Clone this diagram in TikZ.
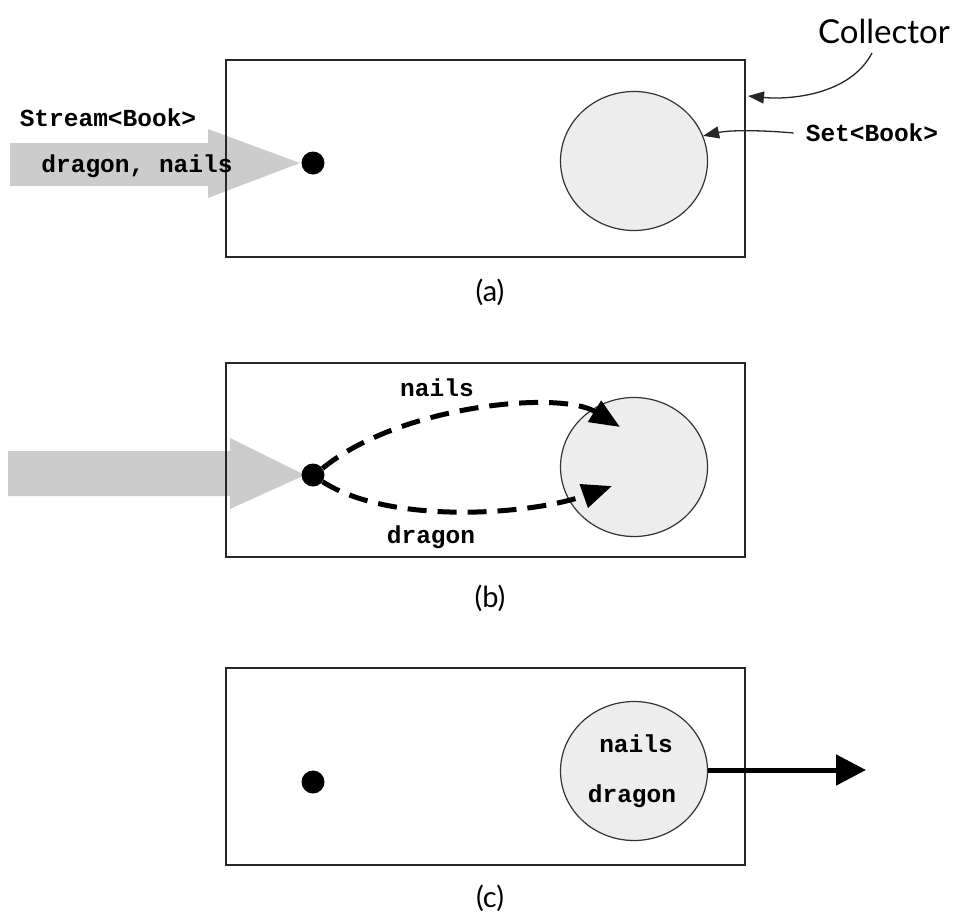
\documentclass[tikz,border=0pt]{standalone}
\usepackage{fontspec}
\setmainfont{Lato}
\setmonofont{Liberation Mono}
\usetikzlibrary{arrows.meta,shapes.geometric}

\tikzset{
  frame/.style={draw=black!85, line width=1.4pt},
  setbag/.style={draw=black!80, line width=1.2pt, fill=black!7, ellipse,
                 minimum width=147pt, minimum height=139pt, inner sep=0pt},
  dotnode/.style={circle, fill=black, minimum size=23pt, inner sep=0pt},
  streamarrow/.style={fill=black!20, draw=none},
  code/.style={font=\fontsize{24.5}{28}\selectfont\ttfamily\bfseries, inner sep=0pt},
  caption/.style={font=\fontsize{29}{33}\selectfont, inner sep=0pt},
  thinarrow/.style={draw=black!85, line width=1.3pt, -{Triangle[length=16pt,width=12pt]}},
  flow/.style={line width=5pt, dash pattern=on 19pt off 11pt,
               -{Triangle[length=30pt,width=24pt]}},
  outflow/.style={line width=5pt, -{Triangle[length=30pt,width=30pt]}}
}

\begin{document}
\begin{tikzpicture}[x=1pt,y=-1pt]
\useasboundingbox (0,0) rectangle (959,916);

% ---------- (a) ----------
\fill[streamarrow] (10,143) -- (208,143) -- (208,129) -- (300,163)
  -- (208,198) -- (208,186) -- (10,186) -- cycle;
\draw[frame] (226,60) rectangle (745,257);
\node[setbag] (setA) at (634,161) {};
\node[dotnode] (dotA) at (313,163) {};
\node[code] (streamlbl) at (108,118) {Stream<Book>};
\node[code] (contents) at (137,166) {dragon, nails};
\node[caption] (capA) at (490,292) {(a)};

\node[font=\fontsize{33}{38}\selectfont, inner sep=0pt] (collector) at (884,31) {Collector};
\coordinate (collStart) at (872,53);
\coordinate (collEnd) at (748,96);
\draw[thinarrow] (collStart) .. controls (850,95) and (790,100) .. (collEnd);

\node[code] (setlbl) at (872,133) {Set<Book>};
\draw[thinarrow] (setlbl.west) ++(-12pt,0) coordinate (setStart)
  .. controls (760,130) and (730,130) .. (setA.20);

% ---------- (b) ----------
\fill[streamarrow] (8,451) -- (230,451) -- (230,438) -- (305,475)
  -- (230,509) -- (230,496) -- (8,496) -- cycle;
\draw[frame] (226,363) rectangle (745,557);
\node[setbag] (setB) at (634,467) {};
\node[dotnode] (dotB) at (313,475) {};
\coordinate (nailsIn) at (620,427);
\coordinate (dragonIn) at (612,486);
\draw[flow] (dotB.35) .. controls (400,405) and (560,390) .. (nailsIn);
\draw[flow] (dotB.-35) .. controls (390,525) and (530,515) .. (dragonIn);
\node[code] (nailsB) at (437,388) {nails};
\node[code] (dragonB) at (431,537) {dragon};
\node[caption] (capB) at (490,598) {(b)};

% ---------- (c) ----------
\draw[frame] (226,668) rectangle (745,865);
\node[setbag] (setC) at (634,771) {};
\node[dotnode] (dotC) at (313,782) {};
\node[code] (nailsC) at (636,744) {nails};
\node[code] (dragonC) at (632,796) {dragon};
\coordinate (outC) at (866,770);
\draw[outflow] (setC.east |- outC) -- (outC);
\node[caption] (capC) at (490,898) {(c)};
\end{tikzpicture}
\end{document}
